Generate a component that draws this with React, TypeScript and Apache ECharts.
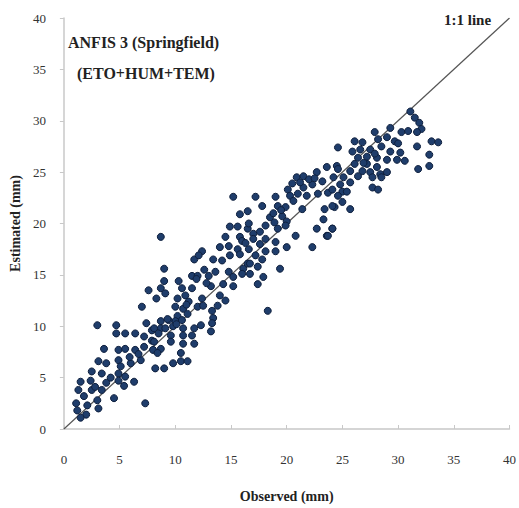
import React, { useEffect, useRef } from "react";
import * as echarts from "echarts";

// Observed (mm) values
const observed: number[] = [
  // low range
  7.6, 8.3, 7.0, 3.0, 4.7, 4.7, 5.5, 6.4, 7.4, 7.9, 8.7, 7.2, 7.9, 3.6, 4.9, 5.5, 6.4, 7.2, 8.0, 8.7,
  3.1, 3.8, 4.9, 5.1, 6.0, 6.9, 8.2, 2.5, 3.4, 4.9, 5.5, 6.3, 1.5, 2.4, 3.8, 4.9, 5.4, 1.3, 2.5, 3.4,
  1.8, 3.0, 4.5, 7.3, 1.1, 2.1, 3.1, 1.2, 2.0, 1.5,
  // mid-low range
  15.2, 15.8, 16.5, 8.7, 14.9, 15.6, 16.5, 14.5, 15.8, 14.0, 14.8, 15.6, 12.4, 11.7, 12.1, 13.4, 14.9, 15.8, 9.0, 11.5,
  12.0, 13.0, 14.8, 15.2, 16.1, 16.5, 9.0, 10.3, 13.2, 14.3, 15.2, 8.7, 9.1, 10.6, 10.9, 11.5, 10.2, 11.2, 12.4, 14.0,
  14.5, 13.8, 10.0, 10.7, 12.0, 12.5, 13.3, 10.2, 11.1, 10.0, 10.6, 13.4, 8.7, 9.4, 12.3, 13.3, 8.1, 9.1, 9.8, 10.7,
  11.7, 13.2, 8.5, 9.6, 10.7, 11.5, 8.1, 9.6, 10.7, 11.7, 8.4, 10.5, 9.8, 10.5, 11.1, 9.0,
  // middle range
  20.9, 21.5, 22.7, 23.6, 24.5, 23.2, 24.2, 20.1, 21.5, 22.3, 17.2, 19.0, 20.3, 21.8, 22.8, 23.7, 25.0, 17.8, 19.2, 19.9,
  20.6, 21.4, 23.4, 24.3, 18.5, 19.6, 20.0, 23.3, 16.6, 18.1, 19.2, 19.9, 22.7, 24.1, 17.0, 18.1, 20.8, 23.6, 16.0, 17.0,
  17.6, 19.0, 20.0, 22.3, 16.6, 18.1, 19.0, 17.2, 17.8, 16.7, 17.4, 19.4, 16.0, 16.7, 17.9, 17.4, 18.3,
  // high range
  31.1, 31.5, 31.9, 32.1, 31.7, 27.9, 29.3, 30.3, 30.9, 33.0, 33.6, 26.1, 26.8, 28.2, 29.0, 29.7, 31.7, 24.6, 25.9, 26.6,
  27.5, 28.5, 29.3, 30.2, 32.8, 26.4, 27.2, 28.1, 29.0, 29.9, 30.6, 32.8, 31.8, 26.1, 27.2, 28.1, 24.6, 25.7, 26.8, 27.5,
  28.4, 29.0, 25.1, 26.4, 27.7, 28.5, 24.8, 25.7, 27.7, 28.2, 24.1, 25.4, 24.6, 25.0, 25.7, 24.1, 24.1, 23.7,
  // extra fill in dense zones
  9.3, 10.1, 11.0, 12.8, 13.6, 6.7, 5.9, 4.2, 2.8, 19.5, 20.5, 21.2, 22.0, 18.8, 26.9, 27.9, 30.0, 22.5, 21.0, 11.9,
  12.6, 14.2, 16.3, 17.6, 18.9,
];

// Estimated (mm) values
const estimated: number[] = [
  13.5, 12.7, 11.9, 10.1, 10.1, 9.3, 9.3, 9.3, 10.3, 9.6, 9.8, 9.0, 8.6, 7.8, 7.7, 7.8, 7.7, 8.0, 7.7, 7.8,
  6.6, 6.4, 6.7, 6.1, 6.4, 6.7, 5.9, 5.6, 5.4, 5.4, 5.1, 4.6, 4.6, 4.7, 4.5, 4.7, 4.2, 3.8, 3.8, 3.8,
  3.2, 2.8, 3.0, 2.5, 2.5, 2.3, 2.0, 1.8, 1.4, 1.1,
  22.6, 20.9, 21.2, 18.7, 19.7, 19.7, 19.5, 18.7, 18.7, 17.7, 17.8, 17.5, 17.3, 16.5, 16.9, 16.5, 16.9, 17.0, 15.6, 14.9,
  14.9, 14.9, 15.3, 14.8, 15.6, 16.1, 14.4, 14.4, 13.9, 14.1, 13.9, 13.7, 13.2, 13.7, 13.0, 13.7, 12.7, 12.4, 12.7, 13.0,
  12.5, 12.0, 11.9, 11.7, 11.9, 12.0, 11.5, 11.0, 11.2, 10.5, 10.6, 10.8, 10.5, 10.6, 10.1, 10.3, 9.8, 9.8, 10.0, 9.8,
  9.8, 9.5, 9.3, 9.1, 9.1, 9.1, 8.5, 8.5, 8.3, 8.3, 7.4, 7.4, 6.4, 6.6, 6.6, 5.9,
  24.5, 24.6, 25.0, 25.5, 25.6, 24.1, 24.5, 23.3, 23.5, 23.8, 22.6, 22.6, 22.7, 22.7, 22.9, 23.0, 23.1, 21.7, 21.7, 21.6,
  22.2, 21.4, 21.4, 21.6, 20.6, 20.7, 20.2, 20.4, 20.0, 19.8, 19.5, 19.8, 19.5, 19.5, 19.0, 18.5, 18.8, 18.8, 18.3, 18.5,
  18.0, 18.2, 17.7, 17.7, 17.5, 17.3, 17.3, 16.9, 16.5, 16.1, 15.8, 15.6, 15.1, 15.1, 14.8, 14.1, 11.5,
  30.9, 30.3, 29.8, 29.2, 28.9, 28.9, 29.3, 28.9, 29.0, 28.0, 27.9, 28.0, 27.9, 28.2, 28.4, 28.0, 27.5, 27.4, 27.0, 27.2,
  27.2, 27.5, 27.0, 26.9, 26.7, 26.4, 26.5, 26.4, 26.2, 26.2, 26.1, 25.6, 25.3, 25.8, 25.8, 25.5, 25.3, 25.1, 25.1, 25.0,
  24.8, 25.0, 24.5, 24.6, 24.5, 24.5, 23.8, 24.0, 23.5, 23.3, 23.3, 23.1, 22.7, 22.1, 21.4, 21.7, 19.5, 18.8,
  10.7, 10.2, 12.1, 14.2, 15.3, 7.3, 7.0, 5.0, 4.1, 21.3, 23.9, 24.0, 24.3, 21.0, 25.9, 26.8, 27.8, 24.4, 22.9, 14.6,
  15.5, 16.4, 18.1, 19.2, 20.1,
];

const xTicks = [0, 5, 10, 15, 20, 25, 30, 35, 40];
const yTicks = [0, 5, 10, 15, 20, 25, 30, 35, 40];
const identityLine: [number, number][] = [[0, 0], [40, 40]];

const serif = "'Liberation Serif', 'Times New Roman', serif";

export default function App() {
  const ref = useRef<HTMLDivElement>(null);
  useEffect(() => {
    if (!ref.current) return;
    const chart = echarts.init(ref.current, undefined, { renderer: "svg" });
    const points = observed.map((o, i) => [o, estimated[i]]);
    chart.setOption({
      animation: false,
      backgroundColor: "#ffffff",
      grid: { left: 63, right: 9, top: 18, bottom: 77 },
      xAxis: {
        type: "value",
        min: xTicks[0],
        max: xTicks[xTicks.length - 1],
        interval: 5,
        name: "Observed (mm)",
        nameLocation: "middle",
        nameGap: 60,
        nameTextStyle: { fontFamily: serif, fontWeight: "bold", fontSize: 14, color: "#222" },
        axisLine: { lineStyle: { color: "#c8c8c8", width: 1.5 } },
        axisTick: { show: true, inside: true, length: 4, lineStyle: { color: "#c8c8c8" } },
        axisLabel: { fontFamily: serif, fontSize: 13, color: "#333333", margin: 24 },
        splitLine: { show: false },
      },
      yAxis: {
        type: "value",
        min: yTicks[0],
        max: yTicks[yTicks.length - 1],
        interval: 5,
        name: "Estimated (mm)",
        nameLocation: "middle",
        nameGap: 37,
        nameRotate: 90,
        nameTextStyle: { fontFamily: serif, fontWeight: "bold", fontSize: 14, color: "#222" },
        axisLine: { show: true, lineStyle: { color: "#c8c8c8", width: 1.5 } },
        axisTick: { show: true, length: 4, lineStyle: { color: "#c8c8c8" } },
        axisLabel: { fontFamily: serif, fontSize: 13, color: "#333333", margin: 18 },
        splitLine: { show: false },
      },
      series: [
        {
          type: "line",
          data: identityLine,
          symbol: "none",
          lineStyle: { color: "#555555", width: 1.2 },
          z: 1,
          silent: true,
        },
        {
          type: "scatter",
          data: points,
          symbol: "circle",
          symbolSize: 7,
          itemStyle: { color: "#1f3d6b", borderColor: "#0e1f3d", borderWidth: 1, opacity: 1 },
          z: 2,
        },
      ],
      graphic: [
        {
          type: "text",
          left: 68,
          top: 34,
          style: { text: "ANFIS 3 (Springfield)", font: `bold 16px ${serif}`, fill: "#222" },
        },
        {
          type: "text",
          left: 77,
          top: 65,
          style: { text: "(ETO+HUM+TEM)", font: `bold 16px ${serif}`, fill: "#222" },
        },
        {
          type: "text",
          left: 444,
          top: 12,
          style: { text: "1:1 line", font: `bold 15px ${serif}`, fill: "#222" },
        },
      ],
    });
    return () => chart.dispose();
  }, []);
  return (
    <div
      ref={ref}
      style={{ position: "absolute", left: 0, top: 0, width: 519, height: 508 }}
    />
  );
}
